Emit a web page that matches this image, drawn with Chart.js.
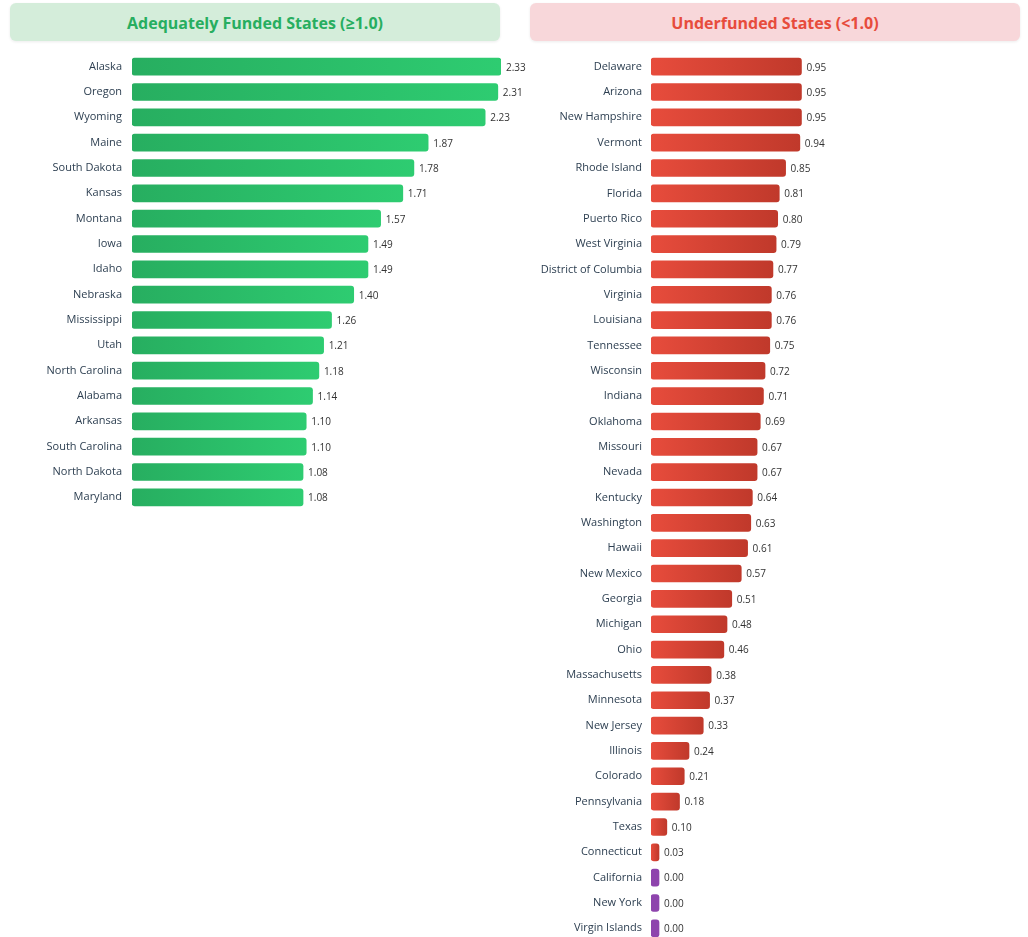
<!DOCTYPE html>
<html>
<head>
<meta charset="utf-8">
<script src="https://cdn.jsdelivr.net/npm/chart.js@4.4.0/dist/chart.umd.min.js"></script>
<style>
  body { margin: 0; background: #fff; font-family: 'Open Sans', 'Noto Sans', sans-serif; }
  #wrap { position: relative; width: 1028px; height: 945px; }
  .head { position: absolute; top: 3px; height: 38px; width: 490px; border-radius: 6px;
          box-shadow: 0 1px 3px rgba(0,0,0,0.08); display: flex; align-items: center;
          justify-content: center; font-weight: 700; font-size: 16px; padding-top: 1px; box-sizing: border-box; }
  #headL { left: 10px; background: #d4edda; color: #27ae60; }
  #headR { left: 530px; background: #f8d7da; color: #e74c3c; }
  canvas { position: absolute; top: 54px; }
  #chartL { left: 0; }
  #chartR { left: 520px; }
</style>
</head>
<body>
<div id="wrap">
  <div class="head" id="headL">Adequately Funded States (≥1.0)</div>
  <div class="head" id="headR">Underfunded States (&lt;1.0)</div>
  <canvas id="chartL" width="545" height="456"></canvas>
  <canvas id="chartR" width="508" height="887"></canvas>
</div>
<script>
// funding ratios by state
const fundedStates = ['Alaska', 'Oregon', 'Wyoming', 'Maine', 'South Dakota', 'Kansas', 'Montana', 'Iowa', 'Idaho',
  'Nebraska', 'Mississippi', 'Utah', 'North Carolina', 'Alabama', 'Arkansas', 'South Carolina', 'North Dakota', 'Maryland'];
const fundedValues = [2.33, 2.31, 2.23, 1.87, 1.78, 1.71, 1.57, 1.49, 1.49,
  1.40, 1.26, 1.21, 1.18, 1.14, 1.10, 1.10, 1.08, 1.08];

const underStates = ['Delaware', 'Arizona', 'New Hampshire', 'Vermont', 'Rhode Island', 'Florida', 'Puerto Rico',
  'West Virginia', 'District of Columbia', 'Virginia', 'Louisiana', 'Tennessee', 'Wisconsin', 'Indiana', 'Oklahoma',
  'Missouri', 'Nevada', 'Kentucky', 'Washington', 'Hawaii', 'New Mexico', 'Georgia', 'Michigan', 'Ohio',
  'Massachusetts', 'Minnesota', 'New Jersey', 'Illinois', 'Colorado', 'Pennsylvania', 'Texas', 'Connecticut',
  'California', 'New York', 'Virgin Islands'];
const underValues = [0.95, 0.95, 0.95, 0.94, 0.85, 0.81, 0.80,
  0.79, 0.77, 0.76, 0.76, 0.75, 0.72, 0.71, 0.69,
  0.67, 0.67, 0.64, 0.63, 0.61, 0.57, 0.51, 0.48, 0.46,
  0.38, 0.37, 0.33, 0.24, 0.21, 0.18, 0.10, 0.03,
  0.00, 0.00, 0.00];

const xMax = 2.33;
const minLen = 8;

Chart.defaults.font.family = "'Open Sans', 'Noto Sans', sans-serif";

function barFill(c1, c2) {
  return (ctx) => {
    const chart = ctx.chart;
    const area = chart.chartArea;
    const v = ctx.raw;
    if (v === 0) return '#8e44ad';
    if (!area) return c1;
    const x0 = area.left;
    const x1 = Math.max(chart.scales.x.getPixelForValue(v), x0 + minLen);
    const g = chart.ctx.createLinearGradient(x0, 0, x1, 0);
    g.addColorStop(0, c1);
    g.addColorStop(1, c2);
    return g;
  };
}

const valueLabels = {
  id: 'valueLabels',
  afterDatasetsDraw(chart) {
    const c = chart.ctx;
    const meta = chart.getDatasetMeta(0);
    const data = chart.data.datasets[0].data;
    c.save();
    c.font = "10px 'Open Sans', 'Noto Sans', sans-serif";
    c.fillStyle = '#333';
    c.textAlign = 'left';
    c.textBaseline = 'middle';
    meta.data.forEach((bar, i) => {
      c.fillText(data[i].toFixed(2), bar.x + 5, bar.y + 1);
    });
    c.restore();
  }
};

function makeChart(id, labels, values, c1, c2, axisW, padRight, tickPad) {
  return new Chart(document.getElementById(id), {
    type: 'bar',
    data: {
      labels: labels,
      datasets: [{
        data: values,
        backgroundColor: barFill(c1, c2),
        borderRadius: 3,
        borderSkipped: false,
        barThickness: 17,
        minBarLength: minLen
      }]
    },
    options: {
      indexAxis: 'y',
      responsive: false,
      animation: false,
      layout: { padding: { left: 0, right: padRight, top: 0, bottom: 0 } },
      plugins: { legend: { display: false }, tooltip: { enabled: false } },
      scales: {
        x: { display: false, min: 0, max: xMax },
        y: {
          grid: { display: false, drawTicks: false },
          border: { display: false },
          ticks: { color: '#2c3e50', padding: tickPad, font: { size: 11 } },
          afterFit: (scale) => {
            scale.width = axisW;
            scale.paddingTop = 0;
            scale.paddingBottom = 0;
          }
        }
      }
    },
    plugins: [valueLabels]
  });
}

makeChart('chartL', fundedStates, fundedValues, '#27ae60', '#2ecc71', 132, 44, 10);
makeChart('chartR', underStates, underValues, '#e74c3c', '#c0392b', 131, 8, 9);
</script>
</body>
</html>
